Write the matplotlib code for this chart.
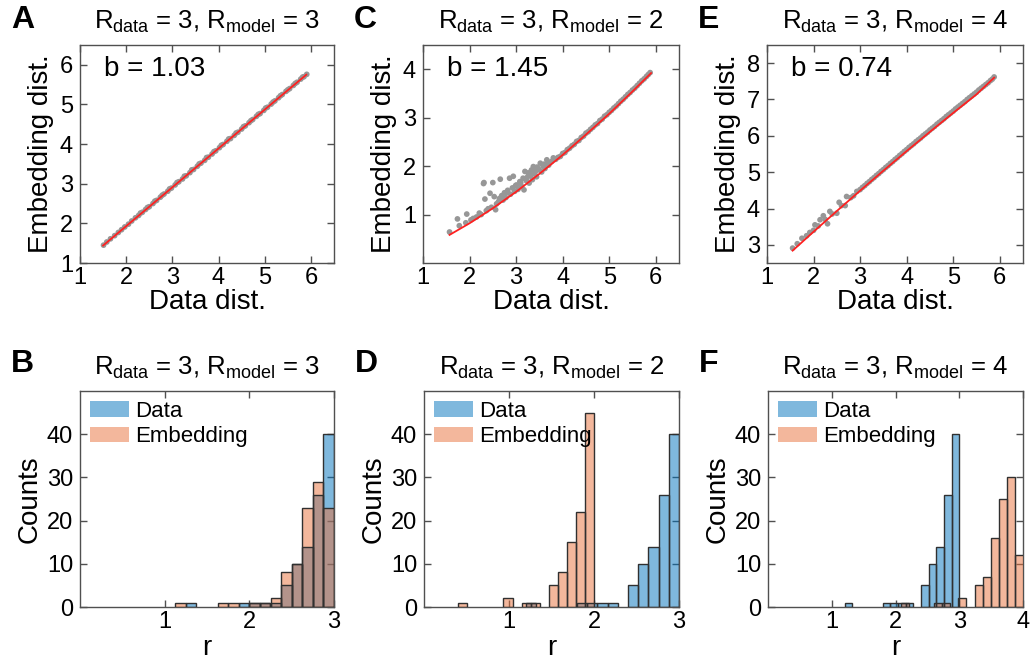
import numpy as np
import matplotlib
matplotlib.use('Agg')
import matplotlib.pyplot as plt
from matplotlib.patches import Patch

plt.rcParams['font.family'] = ['Liberation Sans', 'DejaVu Sans']
plt.rcParams['mathtext.fontset'] = 'custom'
plt.rcParams['mathtext.rm'] = 'Liberation Sans'
plt.rcParams['mathtext.it'] = 'Liberation Sans:italic'

# ---------------- data ----------------
r_data = [3, 3, 3]
r_model = [3, 2, 4]
b_vals = ['1.03', '1.45', '0.74']

# panel A : data dist vs embedding dist
A_x = [1.51, 1.58, 1.66, 1.75, 1.83, 1.9, 1.97, 2.05, 2.12, 2.2, 2.27, 2.35, 2.42, 2.5, 2.58,
       2.66, 2.74, 2.82, 2.9, 2.98, 3.06, 3.14, 3.22, 3.3, 3.38, 3.46, 3.54, 3.62, 3.7, 3.78,
       3.86, 3.94, 4.02, 4.1, 4.18, 4.26, 4.34, 4.42, 4.5, 4.58, 4.66, 4.74, 4.82, 4.9, 4.98,
       5.06, 5.14, 5.22, 5.3, 5.38, 5.46, 5.54, 5.62, 5.7, 5.78, 5.85, 5.91,
       2.31, 2.46, 2.62, 2.78, 2.94, 3.1, 3.26, 3.42, 3.58, 3.74, 3.9, 4.06, 4.22, 4.38,
       4.54, 4.7, 4.86, 5.02, 5.18, 5.34, 5.5, 5.66, 5.82]
A_y = [1.45, 1.53, 1.61, 1.69, 1.77, 1.84, 1.91, 1.98, 2.06, 2.14, 2.20, 2.28, 2.35, 2.42, 2.50,
       2.58, 2.66, 2.74, 2.81, 2.89, 2.97, 3.05, 3.12, 3.20, 3.28, 3.36, 3.44, 3.52, 3.59, 3.67,
       3.75, 3.83, 3.91, 3.99, 4.07, 4.14, 4.22, 4.30, 4.38, 4.46, 4.54, 4.62, 4.70, 4.77, 4.85,
       4.93, 5.01, 5.09, 5.17, 5.25, 5.33, 5.40, 5.48, 5.56, 5.64, 5.70, 5.76,
       2.26, 2.40, 2.56, 2.71, 2.87, 3.03, 3.19, 3.35, 3.50, 3.66, 3.81, 3.97, 4.13, 4.28,
       4.44, 4.59, 4.75, 4.91, 5.06, 5.22, 5.37, 5.53, 5.69]
A_fit_x = [1.5, 2.0, 2.5, 3.0, 3.5, 4.0, 4.5, 5.0, 5.5, 5.9]
A_fit_y = [1.44, 1.93, 2.42, 2.91, 3.40, 3.89, 4.38, 4.87, 5.36, 5.75]

# panel C
C_x = [1.57, 1.74, 1.78, 1.92, 1.94, 2.03, 2.08, 2.15, 2.21, 2.25, 2.30, 2.31, 2.33, 2.36, 2.40,
       2.44, 2.47, 2.50, 2.53, 2.56, 2.58, 2.62, 2.66, 2.69, 2.72, 2.75, 2.78, 2.82, 2.86, 2.88,
       2.92, 2.94, 2.97, 3.01, 3.04, 3.08, 3.12, 3.15, 3.17, 3.19, 3.22, 3.26, 3.28, 3.32, 3.35,
       3.37, 3.40, 3.44, 3.47, 3.52, 3.55, 3.58, 3.62, 3.66, 3.70, 3.74, 3.80, 3.85,
       3.9, 4.0, 4.1, 4.2, 4.3, 4.4, 4.5, 4.6, 4.7, 4.8, 4.9, 5.0, 5.1, 5.2, 5.3, 5.4, 5.5,
       5.6, 5.7, 5.8, 5.88, 3.95, 4.05, 4.15, 4.25, 4.35, 4.45, 4.55, 4.65, 4.75, 4.85, 4.95,
       5.05, 5.15, 5.25, 5.35, 5.45, 5.55, 5.65, 5.75, 5.84,
       2.64, 2.80, 2.99, 3.10, 3.24, 3.30, 3.42, 3.50, 3.60, 3.68, 3.77, 3.45, 3.33]
C_y = [0.64, 0.91, 0.77, 0.83, 1.01, 0.89, 0.92, 0.95, 1.03, 1.00, 1.64, 1.66, 1.32, 1.08, 1.12,
       1.44, 1.15, 1.66, 1.37, 1.10, 1.22, 1.26, 1.73, 1.39, 1.30, 1.45, 1.35, 1.50, 1.75, 1.42,
       1.55, 1.79, 1.48, 1.61, 1.52, 1.68, 1.58, 1.75, 1.51, 1.89, 1.70, 1.86, 1.65, 1.80, 1.72,
       1.99, 1.85, 1.78, 1.95, 2.06, 1.88, 2.00, 1.95, 2.13, 2.02, 2.08, 2.17, 2.14,
       2.18, 2.26, 2.34, 2.42, 2.51, 2.59, 2.68, 2.76, 2.85, 2.94, 3.03, 3.11, 3.20, 3.29, 3.38,
       3.48, 3.57, 3.66, 3.76, 3.85, 3.93, 2.20, 2.28, 2.37, 2.45, 2.53, 2.62, 2.71, 2.80, 2.88,
       2.97, 3.06, 3.15, 3.24, 3.34, 3.43, 3.52, 3.61, 3.71, 3.80, 3.89,
       1.33, 1.46, 1.60, 1.66, 1.77, 1.83, 1.90, 1.92, 2.04, 2.06, 2.10, 1.98, 1.92]
C_fit_x = [1.57, 2.0, 2.5, 3.0, 3.5, 4.0, 4.5, 5.0, 5.5, 5.9]
C_fit_y = [0.58, 0.82, 1.13, 1.47, 1.84, 2.23, 2.65, 3.08, 3.54, 3.92]

# panel E
E_x = [1.55, 1.75, 1.92, 2.03, 2.14, 2.21, 2.30, 2.35, 2.50, 2.55, 2.68, 2.71, 2.86, 2.93,
       1.65, 1.85, 2.0, 2.1, 2.25, 2.4, 2.6, 2.8, 3.0, 3.1, 3.2, 3.3, 3.4, 3.5, 3.6, 3.7, 3.8,
       3.9, 4.0, 4.1, 4.2, 4.3, 4.4, 4.5, 4.6, 4.7, 4.8, 4.9, 5.0, 5.1, 5.2, 5.3, 5.4, 5.5,
       5.6, 5.7, 5.8, 5.88, 3.05, 3.15, 3.25, 3.35, 3.45, 3.55, 3.65, 3.75, 3.85, 3.95, 4.05,
       4.15, 4.25, 4.35, 4.45, 4.55, 4.65, 4.75, 4.85, 4.95, 5.05, 5.15, 5.25, 5.35, 5.45,
       5.55, 5.65, 5.75, 5.84]
E_y = [2.91, 3.18, 3.34, 3.55, 3.69, 3.80, 3.58, 3.92, 3.87, 4.17, 4.08, 4.33, 4.35, 4.47,
       3.03, 3.25, 3.40, 3.52, 3.70, 3.85, 4.08, 4.30, 4.52, 4.63, 4.74, 4.85, 4.96, 5.07, 5.18,
       5.29, 5.40, 5.51, 5.62, 5.73, 5.84, 5.94, 6.05, 6.16, 6.26, 6.37, 6.47, 6.58, 6.68, 6.79,
       6.89, 7.00, 7.10, 7.20, 7.31, 7.41, 7.52, 7.62, 4.58, 4.69, 4.80, 4.91, 5.02, 5.13, 5.24,
       5.35, 5.46, 5.57, 5.68, 5.78, 5.89, 6.00, 6.10, 6.21, 6.32, 6.42, 6.53, 6.63, 6.74, 6.84,
       6.94, 7.05, 7.15, 7.26, 7.36, 7.46, 7.56]
E_fit_x = [1.55, 2.0, 2.5, 3.0, 3.5, 4.0, 4.5, 5.0, 5.5, 5.88]
E_fit_y = [2.84, 3.36, 3.93, 4.49, 5.04, 5.58, 6.11, 6.63, 7.14, 7.60]

# histograms: left bin edges, counts, bin widths
B_data_left = [1.25, 1.875, 2.0, 2.125, 2.25, 2.375, 2.5, 2.625, 2.75, 2.875]
B_data_cnt = [1, 1, 1, 1, 1, 5, 10, 14, 26, 40]
B_emb_left = [1.125, 1.625, 1.75, 2.0, 2.125, 2.25, 2.375, 2.5, 2.625, 2.75, 2.875]
B_emb_cnt = [1, 1, 1, 1, 1, 2, 8, 10, 23, 29, 23]
B_width = [0.125, 0.125]

D_data_left = [1.20, 1.80, 1.92, 2.04, 2.16, 2.40, 2.52, 2.64, 2.76, 2.88]
D_data_cnt = [1, 1, 1, 1, 1, 5, 10, 14, 26, 40]
D_emb_left = [0.40, 0.935, 1.149, 1.256, 1.47, 1.577, 1.684, 1.791, 1.898]
D_emb_cnt = [1, 2, 1, 1, 5, 8, 15, 22, 45]
D_width = [0.12, 0.107]

F_data_left = [1.20, 1.80, 1.92, 2.04, 2.16, 2.40, 2.52, 2.64, 2.76, 2.88]
F_data_cnt = [1, 1, 1, 1, 1, 5, 10, 14, 26, 40]
F_emb_left = [2.088, 2.60, 2.728, 2.984, 3.24, 3.368, 3.496, 3.624, 3.752, 3.88]
F_emb_cnt = [1, 1, 1, 2, 5, 7, 16, 25, 30, 12]
F_width = [0.12, 0.128]

# ---------------- figure ----------------
fig = plt.figure(figsize=(10.32, 6.65), dpi=100)

W, H = 1032.0, 665.0
def pos(l, t, r, b):
    return [l / W, 1 - b / H, (r - l) / W, (b - t) / H]

top_pos = [pos(80, 45, 334, 263), pos(423, 45, 679, 263), pos(767, 45, 1023, 263)]
bot_pos = [pos(80, 391, 334, 607), pos(424, 391, 679, 607), pos(768, 391, 1023, 607)]
top_letters = ['A', 'C', 'E']
bot_letters = ['B', 'D', 'F']

spine_col = '#505050'
blue = '#0072BD'
orange = '#E8703A'
tfs = 18.5

def style(ax):
    for s in ax.spines.values():
        s.set_color(spine_col)
        s.set_linewidth(1.0)
    ax.tick_params(direction='in', top=True, right=True, length=5, width=1.0,
                   color=spine_col, labelsize=17, pad=3)
    ax.tick_params(axis='y', pad=5)

def title(ax, i):
    ax.set_title(r'$\mathregular{R_{data}}$ = %d, $\mathregular{R_{model}}$ = %d'
                 % (r_data[i], r_model[i]), fontsize=tfs, pad=12)

scat = [(A_x, A_y, A_fit_x, A_fit_y, (1, 6.5), [1, 2, 3, 4, 5, 6]),
        (C_x, C_y, C_fit_x, C_fit_y, (0, 4.5), [1, 2, 3, 4]),
        (E_x, E_y, E_fit_x, E_fit_y, (2.5, 8.5), [3, 4, 5, 6, 7, 8])]

for i, (xs, ys, fx, fy, yl, yt) in enumerate(scat):
    ax = fig.add_axes(top_pos[i])
    ax.scatter(xs, ys, s=17, color='#979797', edgecolors='none', zorder=2)
    ax.plot(fx, fy, color='#FF2020', lw=1.3, zorder=3)
    ax.set_xlim(1, 6.5)
    ax.set_ylim(*yl)
    ax.set_xticks([1, 2, 3, 4, 5, 6])
    ax.set_yticks(yt)
    style(ax)
    ax.set_xlabel('Data dist.', fontsize=20, labelpad=0)
    ax.set_ylabel('Embedding dist.', fontsize=20, labelpad=4)
    title(ax, i)
    ax.text(0.095, 0.95, 'b = ' + b_vals[i], transform=ax.transAxes, fontsize=20,
            va='top', ha='left')
    fig.text(top_pos[i][0] - 0.067, 0.992, top_letters[i], fontsize=23,
             fontweight='bold', va='top')

hists = [(B_data_left, B_data_cnt, B_emb_left, B_emb_cnt, B_width, 3, [1, 2, 3]),
         (D_data_left, D_data_cnt, D_emb_left, D_emb_cnt, D_width, 3, [1, 2, 3]),
         (F_data_left, F_data_cnt, F_emb_left, F_emb_cnt, F_width, 4, [1, 2, 3, 4])]

for i, (dl, dc, el, ec, wd, xmax, xt) in enumerate(hists):
    ax = fig.add_axes(bot_pos[i])
    ax.bar(dl, dc, width=wd[0], align='edge', color=blue, alpha=0.5,
           edgecolor='none', zorder=2)
    ax.bar(dl, dc, width=wd[0], align='edge', fill=False,
           edgecolor='#303030', lw=1.0, zorder=4)
    ax.bar(el, ec, width=wd[1], align='edge', color=orange, alpha=0.5,
           edgecolor='none', zorder=3)
    ax.bar(el, ec, width=wd[1], align='edge', fill=False,
           edgecolor='#303030', lw=1.0, zorder=4)
    ax.set_xlim(0, xmax)
    ax.set_ylim(0, 50)
    ax.set_xticks(xt)
    ax.set_yticks([0, 10, 20, 30, 40])
    style(ax)
    ax.set_xlabel('r', fontsize=20, labelpad=1)
    ax.set_ylabel('Counts', fontsize=20, labelpad=3)
    title(ax, i)
    handles = [Patch(facecolor=blue, alpha=0.5, edgecolor='none', label='Data'),
               Patch(facecolor=orange, alpha=0.5, edgecolor='none', label='Embedding')]
    ax.legend(handles=handles, loc='upper left', frameon=False, fontsize=16,
              handlelength=1.75, handleheight=0.7, handletextpad=0.3,
              labelspacing=0.2, borderaxespad=0.15, borderpad=0.3)
    fig.text(bot_pos[i][0] - 0.067, 0.475, bot_letters[i], fontsize=23,
             fontweight='bold', va='top')

fig.savefig('out.png', dpi=100)
